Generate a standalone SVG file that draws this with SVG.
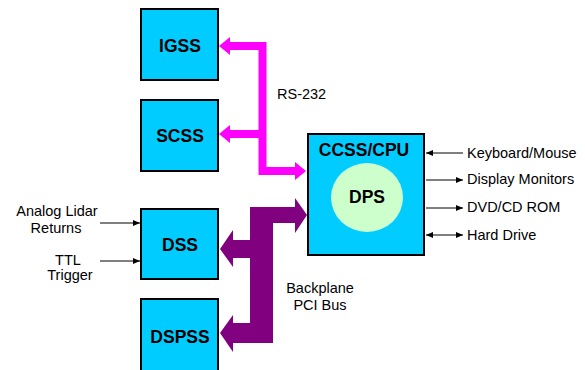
<svg xmlns="http://www.w3.org/2000/svg" width="585" height="370" viewBox="0 0 585 370">
<style>
.box{fill:#00CCFF;stroke:#000;stroke-width:2}
.bl{font-family:"Liberation Sans",Arial,sans-serif;font-weight:bold;font-size:17.5px;fill:#000;text-anchor:middle}
.lb{font-family:"Liberation Sans",Arial,sans-serif;font-size:14.5px;fill:#000}
.thin{stroke:#000;stroke-width:1;fill:none}
.mg{fill:#FF00FF}
.pp{fill:#800080}
</style>
<defs>
<marker id="ah" markerWidth="8" markerHeight="8" refX="7" refY="4" orient="auto" markerUnits="userSpaceOnUse">
<path d="M0,1 L7,4 L0,7 Z" fill="#000"/>
</marker>
<marker id="ahs" markerWidth="8" markerHeight="8" refX="0" refY="4" orient="auto" markerUnits="userSpaceOnUse">
<path d="M7,1 L0,4 L7,7 Z" fill="#000"/>
</marker>
</defs>
<rect width="585" height="370" fill="#fff"/>
<g id="connectors">
<path d="M229,46 H262.5 V171 H296 M229,134 H262.5" fill="none" stroke="#FF00FF" stroke-width="8"/>
<polygon class="mg" points="219,46 230,37 230,55"/>
<polygon class="mg" points="219,134 230,125 230,143"/>
<polygon class="mg" points="306,171 295,162 295,180"/>
<rect class="pp" x="250" y="207" width="23" height="136"/>
<rect class="pp" x="250" y="207" width="46" height="16"/>
<polygon class="pp" points="307,215 295,198 295,233"/>
<rect class="pp" x="232" y="240" width="19" height="18"/>
<polygon class="pp" points="220,249 233,230 233,267"/>
<rect class="pp" x="232" y="323" width="19" height="20"/>
<polygon class="pp" points="220,333 233,315 233,352"/>
<line class="thin" x1="100" y1="223" x2="140" y2="223" marker-end="url(#ah)"/>
<line class="thin" x1="100" y1="261" x2="140" y2="261" marker-end="url(#ah)"/>
<line class="thin" x1="463" y1="153" x2="426" y2="153" marker-end="url(#ah)"/>
<line class="thin" x1="426" y1="180" x2="463" y2="180" marker-end="url(#ah)"/>
<line class="thin" x1="426" y1="208" x2="463" y2="208" marker-end="url(#ah)"/>
<line class="thin" x1="426" y1="235" x2="463" y2="235" marker-start="url(#ahs)" marker-end="url(#ah)"/>
</g>
<g id="IGSS">
<rect class="box" x="141" y="9" width="77" height="71"/>
<text class="bl" x="180" y="52">IGSS</text>
</g>
<g id="SCSS">
<rect class="box" x="141" y="100" width="77" height="71"/>
<text class="bl" x="180" y="142">SCSS</text>
</g>
<g id="DSS">
<rect class="box" x="141" y="209" width="77" height="70"/>
<text class="bl" x="180" y="251">DSS</text>
</g>
<g id="DSPSS">
<rect class="box" x="141" y="299" width="77" height="76"/>
<text class="bl" x="180" y="343">DSPSS</text>
</g>
<g id="CCSS">
<rect class="box" x="308" y="134" width="116" height="121"/>
<text class="bl" x="364" y="156">CCSS/CPU</text>
</g>
<g id="DPS">
<ellipse cx="367" cy="197.5" rx="36" ry="34.5" fill="#CCFFCC"/>
<text class="bl" x="367" y="203">DPS</text>
</g>
<g id="labels">
<text class="lb" x="277" y="99">RS-232</text>
<text class="lb" x="320" y="293" text-anchor="middle">Backplane</text>
<text class="lb" x="320" y="310" text-anchor="middle">PCI Bus</text>
<text class="lb" x="57" y="216" text-anchor="middle">Analog Lidar</text>
<text class="lb" x="56" y="233" text-anchor="middle">Returns</text>
<text class="lb" x="68" y="265" text-anchor="middle">TTL</text>
<text class="lb" x="70" y="280" text-anchor="middle">Trigger</text>
<text class="lb" x="467" y="158">Keyboard/Mouse</text>
<text class="lb" x="467" y="184">Display Monitors</text>
<text class="lb" x="467" y="212">DVD/CD ROM</text>
<text class="lb" x="467" y="240">Hard Drive</text>
</g>
</svg>
